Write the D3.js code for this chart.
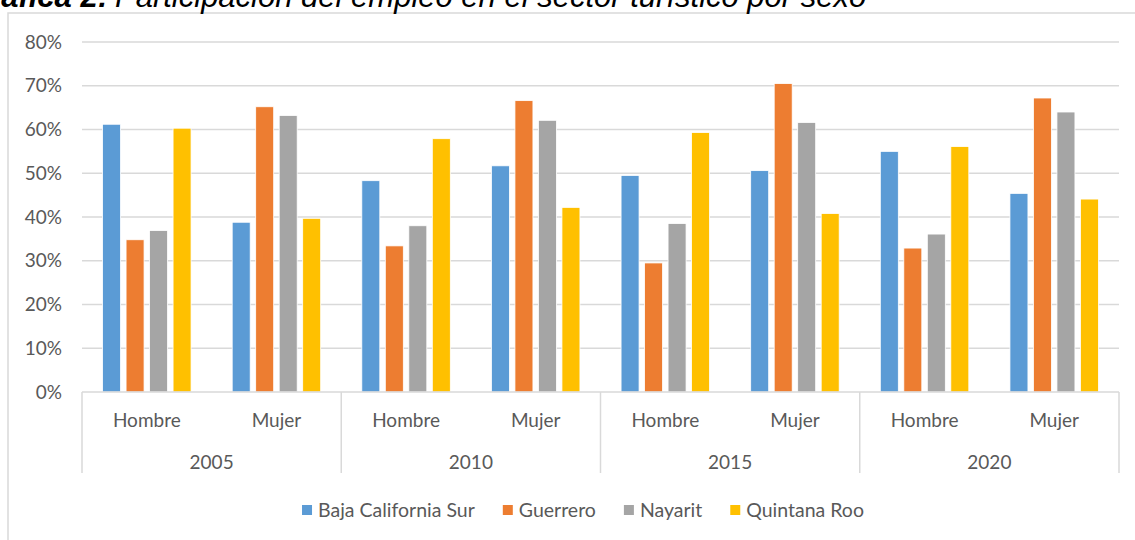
<!DOCTYPE html>
<html>
<head>
<meta charset="utf-8">
<script src="https://cdn.jsdelivr.net/npm/d3@7"></script>
<style>
  body { margin: 0; background: #fff; }
  svg { display: block; }
  .lbl { font-family: Lato, "Open Sans", sans-serif; fill: #595959; }
</style>
</head>
<body>
<div id="chart"></div>
<script>
// chart data
var years = ['2005', '2010', '2015', '2020'];
var sexes = ['Hombre', 'Mujer'];
var seriesNames = ['Baja California Sur', 'Guerrero', 'Nayarit', 'Quintana Roo'];
var seriesColors = ['#5B9BD5', '#ED7D31', '#A5A5A5', '#FFC000'];
// one value per year/sex pair: 2005 H, 2005 M, 2010 H, ...
var bajaCalifornia = [0.612, 0.388, 0.483, 0.517, 0.495, 0.506, 0.550, 0.454];
var guerrero       = [0.348, 0.652, 0.334, 0.666, 0.295, 0.705, 0.329, 0.672];
var nayarit        = [0.369, 0.632, 0.380, 0.621, 0.385, 0.616, 0.361, 0.640];
var quintanaRoo    = [0.603, 0.397, 0.579, 0.422, 0.593, 0.408, 0.561, 0.441];
var seriesValues = [bajaCalifornia, guerrero, nayarit, quintanaRoo];
var yTicks = [0, 0.1, 0.2, 0.3, 0.4, 0.5, 0.6, 0.7, 0.8];

var width = 1135, height = 540;
var margin = {top: 42, right: 16, bottom: 146, left: 82};
var gridColor = '#D9D9D9';
var fontSize = 19;
var legendFont = 19.5;

var svg = d3.select('#chart').append('svg')
  .attr('width', width)
  .attr('height', height);

// outer frame (only top and left visible in the crop)
svg.append('path')
  .attr('d', 'M8,540 V13 H1135')
  .attr('fill', 'none')
  .attr('stroke', gridColor)
  .attr('stroke-width', 1.5);

// title, cut at the top of the picture like in the source
svg.append('text')
  .attr('x', 108).attr('y', 7)
  .attr('text-anchor', 'end')
  .style('font-family', '"Liberation Sans", Arial, sans-serif')
  .style('font-size', '31px')
  .style('font-weight', 'bold')
  .style('font-style', 'italic')
  .text('Gráfica 2:');
svg.append('text')
  .attr('x', 115).attr('y', 7)
  .style('font-family', '"Liberation Sans", Arial, sans-serif')
  .style('font-size', '31px')
  .style('font-style', 'italic')
  .text('Participación del empleo en el sector turístico por sexo');

// categories
var cats = [];
years.forEach(function(yr) {
  sexes.forEach(function(s) { cats.push(yr + '|' + s); });
});

var x0 = d3.scaleBand()
  .domain(cats)
  .range([margin.left, width - margin.right])
  .padding(0);

var x1 = d3.scaleBand()
  .domain(seriesNames)
  .range([0, 88.5])
  .paddingInner(0.234)
  .paddingOuter(0);

var xYear = d3.scaleBand()
  .domain(years)
  .range([margin.left, width - margin.right])
  .padding(0);

var y = d3.scaleLinear()
  .domain([0, 0.8])
  .range([height - margin.bottom - 2, margin.top]);

// gridlines
svg.append('g')
  .selectAll('line')
  .data(yTicks.slice(1))
  .enter().append('line')
  .attr('x1', margin.left).attr('x2', width - margin.right)
  .attr('y1', function(d) { return y(d); })
  .attr('y2', function(d) { return y(d); })
  .attr('stroke', gridColor)
  .attr('stroke-width', 1.3);

// y labels
svg.append('g')
  .selectAll('text')
  .data(yTicks)
  .enter().append('text')
  .attr('class', 'lbl')
  .attr('x', 62)
  .attr('y', function(d) { return y(d); })
  .attr('dy', '0.35em')
  .attr('text-anchor', 'end')
  .style('font-size', fontSize + 'px')
  .text(d3.format('.0%'));

// bars
var groups = svg.append('g')
  .selectAll('g')
  .data(cats)
  .enter().append('g')
  .attr('transform', function(d) {
    return 'translate(' + (x0(d) + (x0.bandwidth() - 88.5) / 2) + ',0)';
  });

groups.selectAll('rect')
  .data(function(d, i) {
    return seriesNames.map(function(name, k) {
      return {name: name, value: seriesValues[k][i], color: seriesColors[k]};
    });
  })
  .enter().append('rect')
  .attr('x', function(d) { return x1(d.name); })
  .attr('y', function(d) { return y(d.value); })
  .attr('width', x1.bandwidth())
  .attr('height', function(d) { return y(0) - y(d.value); })
  .attr('fill', function(d) { return d.color; })
  .attr('stroke', '#fff')
  .attr('stroke-width', 0.8);

// x axis line
svg.append('line')
  .attr('x1', margin.left).attr('x2', width - margin.right)
  .attr('y1', y(0)).attr('y2', y(0))
  .attr('stroke', gridColor)
  .attr('stroke-width', 1.5);

// year separators
var seps = years.map(function(yr) { return xYear(yr); }).concat([width - margin.right]);
svg.append('g')
  .selectAll('line')
  .data(seps)
  .enter().append('line')
  .attr('x1', function(d) { return d; })
  .attr('x2', function(d) { return d; })
  .attr('y1', y(0)).attr('y2', y(0) + 81)
  .attr('stroke', gridColor)
  .attr('stroke-width', 1.5);

// sex labels
svg.append('g')
  .selectAll('text')
  .data(cats)
  .enter().append('text')
  .attr('class', 'lbl')
  .attr('x', function(d) { return x0(d) + x0.bandwidth() / 2; })
  .attr('y', y(0) + 28)
  .attr('dy', '0.35em')
  .attr('text-anchor', 'middle')
  .style('font-size', fontSize + 'px')
  .text(function(d) { return d.split('|')[1]; });

// year labels
svg.append('g')
  .selectAll('text')
  .data(years)
  .enter().append('text')
  .attr('class', 'lbl')
  .attr('x', function(d) { return xYear(d) + xYear.bandwidth() / 2; })
  .attr('y', y(0) + 70)
  .attr('dy', '0.35em')
  .attr('text-anchor', 'middle')
  .style('font-size', fontSize + 'px')
  .text(function(d) { return d; });

// legend, laid out from measured text widths and centred
var legend = svg.append('g');
var items = legend.selectAll('g')
  .data(seriesNames)
  .enter().append('g');
items.append('rect')
  .attr('width', 10).attr('height', 10)
  .attr('y', -5)
  .attr('fill', function(d, i) { return seriesColors[i]; });
items.append('text')
  .attr('class', 'lbl')
  .attr('x', 16)
  .attr('dy', '0.35em')
  .style('font-size', legendFont + 'px')
  .text(function(d) { return d; });

var cursor = 0;
items.each(function() {
  var w = 16 + this.querySelector('text').getComputedTextLength();
  d3.select(this).attr('transform', 'translate(' + cursor + ',0)');
  cursor += w + 28;
});
cursor -= 28;
legend.attr('transform', 'translate(' + (583 - cursor / 2) + ',510)');
</script>
</body>
</html>
